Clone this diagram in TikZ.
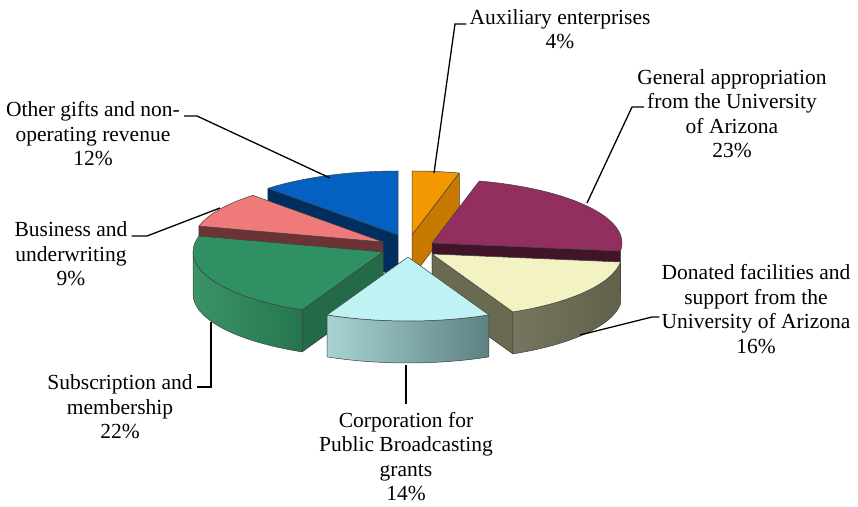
\documentclass[tikz,border=0pt]{standalone}
\usepackage{fontspec}
\setmainfont{Liberation Serif}
\definecolor{othTop}{HTML}{0561C1}
\definecolor{othSide}{HTML}{002E5E}
\definecolor{auxTop}{HTML}{F29800}
\definecolor{auxSide}{HTML}{C87A00}
\definecolor{busTop}{HTML}{F07A7A}
\definecolor{busSide}{HTML}{6B3333}
\definecolor{genTop}{HTML}{922F5E}
\definecolor{genSide}{HTML}{41142A}
\definecolor{subTop}{HTML}{2F9163}
\definecolor{subSide}{HTML}{236B48}
\definecolor{subFront}{HTML}{2B8A5B}
\definecolor{donTop}{HTML}{F3F2C3}
\definecolor{donSide}{HTML}{6A6A52}
\definecolor{cpbTop}{HTML}{BFF2F2}
\definecolor{cpbLeft}{HTML}{A9D3D3}
\definecolor{cpbRight}{HTML}{5C8282}
\begin{document}
\begin{tikzpicture}[x=1pt, y=1pt, font=\fontsize{21.5}{24.5}\selectfont,
    face/.style={draw=black!75, line width=0.5pt, line join=round},
    lbl/.style={align=center, inner sep=0pt},
    leader/.style={draw, line width=1.3pt}]
  \useasboundingbox (0,0) rectangle (858,506);

  % other gifts
  \begin{scope}[shift={(398,271)}]
    \path[face, fill=othSide] (0,0) -- (133.2:190 and 64) -- ++(0,-42) -- (0,-42) -- cycle;
    \path[face, fill=othTop] (0,0) -- (90:190 and 64) arc[start angle=90, end angle=133.2, x radius=190, y radius=64] -- cycle;
  \end{scope}
  % auxiliary
  \begin{scope}[shift={(412,271)}]
    \path[face, fill=auxSide] (0,0) -- (75.6:190 and 64) -- ++(0,-42) -- (0,-42) -- cycle;
    \path[face, fill=auxTop] (0,0) -- (75.6:190 and 64) arc[start angle=75.6, end angle=90, x radius=190, y radius=64] -- cycle;
  \end{scope}
  % business
  \begin{scope}[shift={(383,264)}]
    \path[face, fill=busSide] (0,0) -- (165.6:190 and 64) -- ++(0,-42) -- (0,-42) -- cycle;
    \path[face, fill=busTop] (0,0) -- (133.2:190 and 64) arc[start angle=133.2, end angle=165.6, x radius=190, y radius=64] -- cycle;
  \end{scope}
  % general appropriation
  \begin{scope}[shift={(432,263)}]
    \path[face, fill=genSide] (0,0) -- (-7.2:190 and 64) -- ++(0,-42) -- (0,-42) -- cycle;
    \path[face, fill=genTop] (0,0) -- (-7.2:190 and 64) arc[start angle=-7.2, end angle=75.6, x radius=190, y radius=64] -- cycle;
  \end{scope}
  % subscription
  \begin{scope}[shift={(383,254)}]
    \path[face, fill=subSide] (0,0) -- (244.8:190 and 64) -- ++(0,-42) -- (0,-42) -- cycle;
    \path[face, left color=subFront!92!white, right color=subFront!85!black] (180:190 and 64) arc[start angle=180, end angle=244.8, x radius=190, y radius=64] -- ++(0,-42) arc[start angle=244.8, end angle=180, x radius=190, y radius=64] -- cycle;
    \path[face, fill=subTop] (0,0) -- (165.6:190 and 64) arc[start angle=165.6, end angle=244.8, x radius=190, y radius=64] -- cycle;
  \end{scope}
  % donated facilities
  \begin{scope}[shift={(432,252)}]
    \path[face, fill=donSide] (0,0) -- (-64.8:190 and 64) -- ++(0,-42) -- (0,-42) -- cycle;
    \path[face, left color=donSide!92!white, right color=donSide!92!black] (-64.8:190 and 64) arc[start angle=-64.8, end angle=-7.2, x radius=190, y radius=64] -- ++(0,-42) arc[start angle=-7.2, end angle=-64.8, x radius=190, y radius=64] -- cycle;
    \path[face, fill=donTop] (0,0) -- (-64.8:190 and 64) arc[start angle=-64.8, end angle=-7.2, x radius=190, y radius=64] -- cycle;
  \end{scope}
  % public broadcasting
  \begin{scope}[shift={(408,249)}]
    \path[face, left color=cpbLeft, right color=cpbRight] (-115.2:190 and 64) arc[start angle=-115.2, end angle=-64.8, x radius=190, y radius=64] -- ++(0,-42) arc[start angle=-64.8, end angle=-115.2, x radius=190, y radius=64] -- cycle;
    \path[face, fill=cpbTop] (0,0) -- (-115.2:190 and 64) arc[start angle=-115.2, end angle=-64.8, x radius=190, y radius=64] -- cycle;
  \end{scope}

  % labels
  \node[lbl] (auxlbl) at (560,477) {Auxiliary enterprises\\4\%};
  \node[lbl] (genlbl) at (732,392.5) {General appropriation\\from the University\\of Arizona\\23\%};
  \node[lbl] (donlbl) at (756,197) {Donated facilities and\\support from the\\University of Arizona\\16\%};
  \node[lbl] (cpblbl) at (406,49.5) {Corporation for\\Public Broadcasting\\grants\\14\%};
  \node[lbl] (sublbl) at (120,99) {Subscription and\\membership\\22\%};
  \node[lbl] (buslbl) at (71,252) {Business and\\underwriting\\9\%};
  \node[lbl] (othlbl) at (93,372) {Other gifts and non-\\operating revenue\\12\%};

  % leaders
  \coordinate (pAux) at (434,333);
  \coordinate (kAux) at (455,482);
  \coordinate (pGen) at (587,303);
  \coordinate (kGen) at (632,399);
  \coordinate (pDon) at (580,171);
  \coordinate (kDon) at (652,189);
  \coordinate (pCPB) at (406,141);
  \coordinate (pSub) at (211,184);
  \coordinate (kSub) at (211,119);
  \coordinate (pBus) at (220,298);
  \coordinate (kBus) at (147,270);
  \coordinate (pOth) at (330,328);
  \coordinate (kOth) at (197,390);
  \path[leader] (pAux) -- (kAux) -- ([xshift=-3pt]kAux -| auxlbl.west);
  \path[leader] (pGen) -- (kGen) -- ([xshift=7pt]kGen -| genlbl.west);
  \path[leader] (pDon) -- (kDon) -- ([xshift=-2pt]kDon -| donlbl.west);
  \path[leader] (pCPB) -- ([yshift=8pt]cpblbl.north);
  \path[leader] (pSub) -- (kSub) -- ([xshift=4pt]kSub -| sublbl.east);
  \path[leader] (pBus) -- (kBus) -- ([xshift=4pt]kBus -| buslbl.east);
  \path[leader] (pOth) -- (kOth) -- ([xshift=4pt]kOth -| othlbl.east);
\end{tikzpicture}
\end{document}
